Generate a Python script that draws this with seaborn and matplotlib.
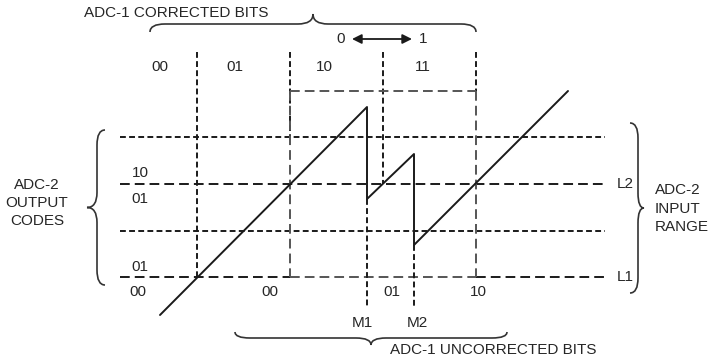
import numpy as np
import pandas as pd
import matplotlib
matplotlib.use('Agg')
import matplotlib.pyplot as plt
from matplotlib.path import Path
from matplotlib.patches import PathPatch
import seaborn as sns

# ramp (transfer curve) vertices, pixel space of the original figure
ramp_x = [160, 367, 367, 414, 414, 568]
ramp_y = [315, 107, 199, 154, 245, 91]

# ADC-2 threshold levels (y) and ADC-1 decision boundaries (x)
level_y = [137, 184, 231, 277]
level_names = ['', 'L2', '', 'L1']
boundary_x = [197, 290, 383, 476]
marker_x = [367, 414]
marker_names = ['M1', 'M2']

corrected_codes = ['00', '01', '10', '11']
corrected_x = [160, 235, 324, 423]
uncorrected_codes = ['00', '00', '01', '10']
uncorrected_x = [138, 270, 392, 478]
left_codes = ['10', '01', '01']
left_codes_y = [173, 199, 267]

sns.set_theme(style='white')
plt.rcParams['font.family'] = ['Liberation Sans', 'DejaVu Sans']

fig = plt.figure(figsize=(7.12, 3.6), dpi=100)
ax = fig.add_axes([0, 0, 1, 1])
ax.set_xlim(0, 712)
ax.set_ylim(360, 0)
ax.axis('off')

ink = '#1a1a1a'
grey = '#555555'
fs = 11
short = (3, 1.7)
long_ = (5, 2.6)

# horizontal levels
for i, y in enumerate(level_y):
    d = long_ if level_names[i] else short
    if i == 3:
        ax.plot([120, 290], [y, y], color=ink, lw=1.4, dashes=d)
        ax.plot([290, 476], [y, y], color=grey, lw=1.4, dashes=d)
        ax.plot([476, 605], [y, y], color=ink, lw=1.4, dashes=d)
    else:
        ax.plot([120, 605], [y, y], color=ink, lw=1.4, dashes=d)
    if level_names[i]:
        ax.text(617, y, level_names[i], fontsize=fs, ha='left', va='center')

# vertical boundaries
ax.plot([boundary_x[0]] * 2, [52, 277], color=ink, lw=1.4, dashes=short)
ax.plot([boundary_x[1]] * 2, [52, 137], color=ink, lw=1.4, dashes=short)
ax.plot([boundary_x[2]] * 2, [52, 184], color=ink, lw=1.4, dashes=short)
ax.plot([boundary_x[3]] * 2, [52, 91], color=ink, lw=1.4, dashes=short)

# grey box (shifted range)
ax.plot([290, 476], [91, 91], color=grey, lw=1.4, dashes=long_)
ax.plot([290, 290], [91, 277], color=grey, lw=1.4, dashes=long_)
ax.plot([476, 476], [91, 277], color=grey, lw=1.4, dashes=long_)

# markers M1, M2
ax.plot([marker_x[0]] * 2, [199, 307], color=ink, lw=1.4, dashes=short)
ax.plot([marker_x[1]] * 2, [245, 307], color=ink, lw=1.4, dashes=short)
ax.text(362, 323, marker_names[0], fontsize=fs, ha='center', va='center')
ax.text(417, 323, marker_names[1], fontsize=fs, ha='center', va='center')

# ramp
ramp = pd.DataFrame({'x': ramp_x, 'y': ramp_y})
sns.lineplot(data=ramp, x='x', y='y', sort=False, estimator=None,
             color=ink, lw=1.4, ax=ax)


def brace(ax, a0, a1, c, body, tip, r=15, vertical=False):
    m = (a0 + a1) / 2
    pts = [(a0, c), (a0, c + body), (a0 + r, c + body), (m - r, c + body),
           (m, c + body), (m, c + tip), (m, c + body), (m + r, c + body),
           (a1 - r, c + body), (a1, c + body), (a1, c)]
    codes = [Path.MOVETO, Path.CURVE3, Path.CURVE3, Path.LINETO,
             Path.CURVE3, Path.CURVE3, Path.CURVE3, Path.CURVE3,
             Path.LINETO, Path.CURVE3, Path.CURVE3]
    if vertical:
        pts = [(q, p) for p, q in pts]
    ax.add_patch(PathPatch(Path(pts, codes), fill=False, color='#333333', lw=1.2))


brace(ax, 150, 476, 32, -8, -18)
brace(ax, 235, 507, 332, 6, 13)
brace(ax, 130, 285, 105, -8, -18, vertical=True)
brace(ax, 123, 293, 630, 8, 14, vertical=True)

# texts
ax.text(176, 13, 'ADC-1 CORRECTED BITS', fontsize=fs, ha='center', va='center')
ax.text(493, 350, 'ADC-1 UNCORRECTED BITS', fontsize=fs, ha='center', va='center')
for lab, y in zip(['ADC-2', 'OUTPUT', 'CODES'], [185, 203, 221]):
    ax.text(37, y, lab, fontsize=fs, ha='center', va='center')
for lab, y in zip(['ADC-2', 'INPUT', 'RANGE'], [190, 209, 227]):
    ax.text(655, y, lab, fontsize=fs, ha='left', va='center')

for lab, x in zip(corrected_codes, corrected_x):
    ax.text(x, 67, lab, fontsize=fs, ha='center', va='center')
for lab, x in zip(uncorrected_codes, uncorrected_x):
    ax.text(x, 292, lab, fontsize=fs, ha='center', va='center')
for lab, y in zip(left_codes, left_codes_y):
    ax.text(140, y, lab, fontsize=fs, ha='center', va='center')

ax.text(341, 39, '0', fontsize=fs, ha='center', va='center')
ax.text(423, 39, '1', fontsize=fs, ha='center', va='center')
ax.annotate('', xy=(412, 39), xytext=(352, 39),
            arrowprops=dict(arrowstyle='<|-|>', color=ink, lw=1.3,
                            mutation_scale=14, shrinkA=0, shrinkB=0))

fig.savefig('out.png', dpi=100)
